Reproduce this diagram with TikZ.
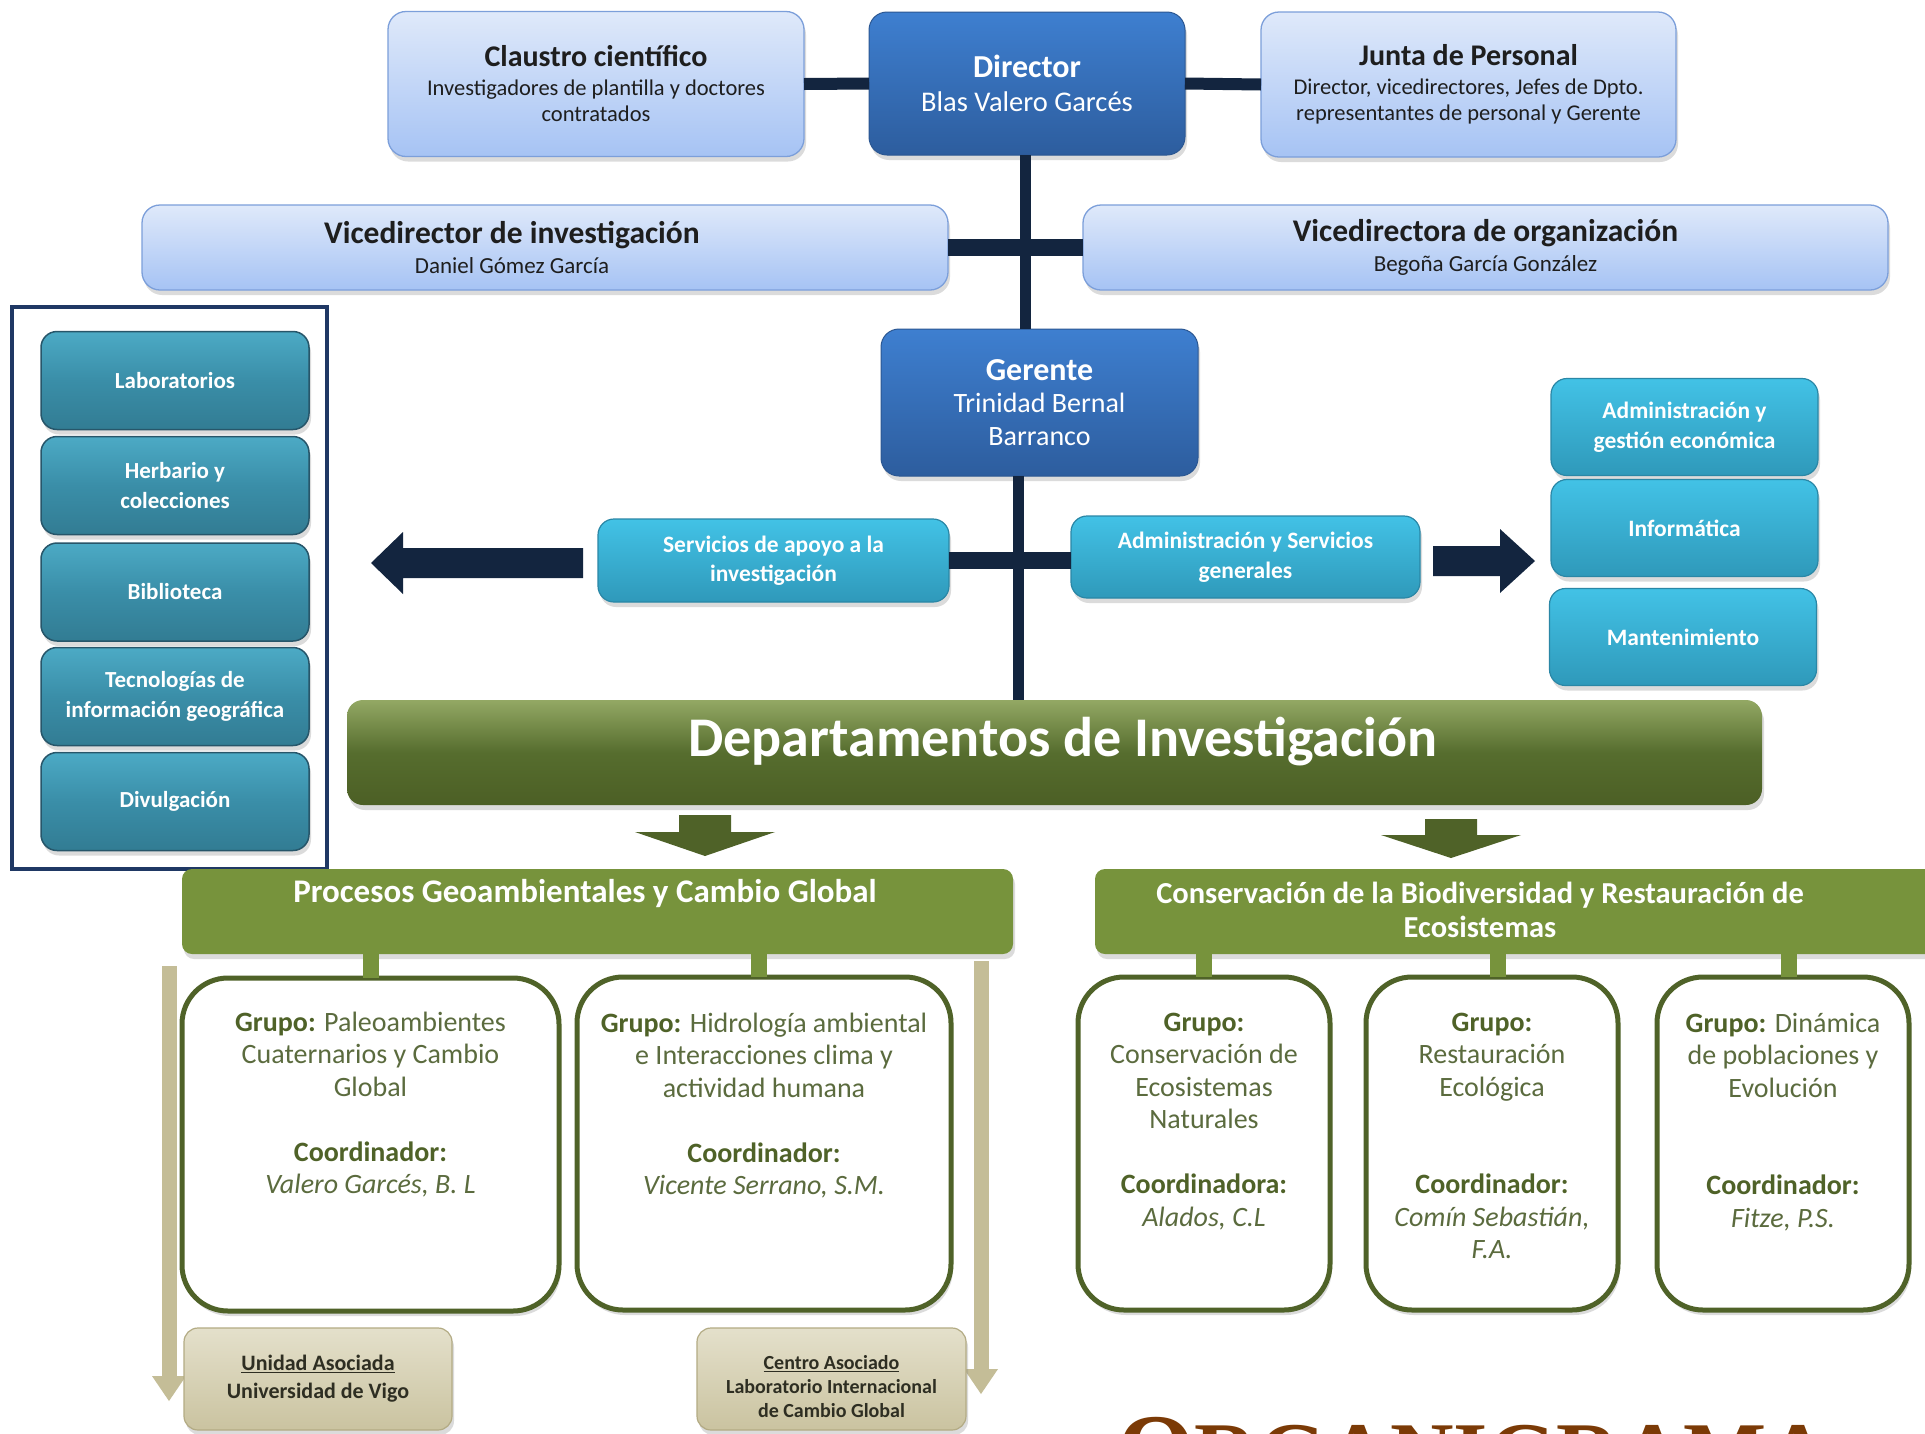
\documentclass[tikz,border=0pt]{standalone}
\usepackage{fontspec}
\setmainfont{Carlito}
\newfontfamily\brownserif{Liberation Serif}
\usetikzlibrary{shadows}
\definecolor{lbTop}{HTML}{DFE9FA}
\definecolor{lbBot}{HTML}{A6C3F4}
\definecolor{lbBorder}{HTML}{7C9FDA}
\definecolor{dbTop}{HTML}{3E7FD0}
\definecolor{dbBot}{HTML}{2D5D9E}
\definecolor{dbBorder}{HTML}{2B5792}
\definecolor{navy}{HTML}{13253F}
\definecolor{tealTop}{HTML}{4CAAC5}
\definecolor{tealMid}{HTML}{3A8EA8}
\definecolor{tealBot}{HTML}{327C93}
\definecolor{tealBorder}{HTML}{27566A}
\definecolor{cyanTop}{HTML}{42C2E6}
\definecolor{cyanBot}{HTML}{2F99BA}
\definecolor{cyanBorder}{HTML}{2A87A6}
\definecolor{deptTop}{HTML}{93A864}
\definecolor{deptMid}{HTML}{566D2E}
\definecolor{deptBot}{HTML}{4C5F25}
\definecolor{grn}{HTML}{77933C}
\definecolor{olive}{HTML}{4F6228}
\definecolor{oliveTxt}{HTML}{5B6B3E}
\definecolor{tan}{HTML}{C4BD97}
\definecolor{tanTop}{HTML}{E4E0CB}
\definecolor{tanBot}{HTML}{CAC3A0}
\definecolor{tanBorder}{HTML}{B3AB84}
\definecolor{tanTxt}{HTML}{2E2E22}
\definecolor{frameNavy}{HTML}{1F3864}
\definecolor{brownT}{HTML}{7B3A06}
\definecolor{darkTxt}{HTML}{1E1E1E}
\newcommand\fsz[2]{\fontsize{#1}{#2}\selectfont}
\tikzset{
  every node/.style={inner sep=0pt, outer sep=0pt},
  shad/.style={drop shadow={opacity=0.28, shadow xshift=2pt, shadow yshift=-5pt}},
  lbox/.style={rounded corners=18pt, draw=lbBorder, line width=1.3pt, top color=lbTop, bottom color=lbBot, shad, align=center, text=darkTxt},
  dbox/.style={rounded corners=18pt, draw=dbBorder, line width=1pt, top color=dbTop, bottom color=dbBot, shad, align=center, text=white},
  tealbox/.style={rounded corners=16pt, draw=tealBorder, line width=1.5pt, top color=tealTop, bottom color=tealBot, middle color=tealMid, shad, align=center, text=white, font=\fsz{23}{29.5}\bfseries, minimum width=268, minimum height=98},
  cyanbox/.style={rounded corners=16pt, draw=cyanBorder, line width=1.2pt, top color=cyanTop, bottom color=cyanBot, shad, align=center, text=white, font=\fsz{23.5}{29.5}\bfseries},
  deptbox/.style={rounded corners=16pt, top color=deptTop, bottom color=deptBot, middle color=deptMid, shad},
  grnbar/.style={rounded corners=10pt, fill=grn, shad},
  gbox/.style={rounded corners=46pt, draw=olive, line width=5pt, fill=white, shad, minimum height=333},
  gtext/.style={align=center, text=oliveTxt, font=\fsz{28}{32.5}},
  tanbox/.style={rounded corners=14pt, draw=tanBorder, line width=1.2pt, top color=tanTop, bottom color=tanBot, shad, align=center, text=tanTxt, minimum width=268, minimum height=102},
  conn/.style={draw=navy, line width=12pt},
  gconn/.style={draw=grn, line width=16pt},
}
\begin{document}
\begin{tikzpicture}[x=1pt,y=-1pt]
\clip (0,0) rectangle (1925,1433);
\fill[white] (0,0) rectangle (1925,1433);

% ---------- top row ----------
\node[lbox, minimum width=416, minimum height=145, font=\fsz{22.5}{26}] (claustro) at (596,84)
  {{\fsz{30}{30}\bfseries Claustro científico}\\[3pt] Investigadores de plantilla y doctores\\ contratados};
\node[dbox, minimum width=316, minimum height=143, font=\fsz{28.5}{34}] (director) at (1027,83.5)
  {{\fsz{32}{32}\bfseries Director}\\ Blas Valero Garcés};
\node[lbox, minimum width=415, minimum height=145, font=\fsz{22.5}{26}] (junta) at (1468.5,84.5)
  {{\fsz{30}{30}\bfseries Junta de Personal}\\[3pt] Director, vicedirectores, Jefes de Dpto.\\ representantes de personal y Gerente};

% ---------- vicedirectors ----------
\node[lbox, minimum width=806, minimum height=85] (vice1) at (545,247.5) {};
\node[align=center, text=darkTxt, font=\fsz{23}{30}] (vice1t) at (512,248)
  {{\fsz{31.5}{31.5}\bfseries Vicedirector de investigación}\\ Daniel Gómez García};
\node[lbox, minimum width=805, minimum height=85, font=\fsz{23}{30}] (vice2) at (1485.5,247.5)
  {{\fsz{31.5}{31.5}\bfseries Vicedirectora de organización}\\ Begoña García González};

% ---------- gerente ----------
\node[dbox, minimum width=317, minimum height=147, font=\fsz{28}{32.5}] (gerente) at (1039.5,402.5)
  {{\fsz{32}{32}\bfseries Gerente}\\ Trinidad Bernal\\ Barranco};

% ---------- services ----------
\node[cyanbox, minimum width=351, minimum height=83] (serv) at (773.5,560.5)
  {Servicios de apoyo a la\\ investigación};
\node[cyanbox, minimum width=349, minimum height=82] (adm) at (1245.5,557)
  {Administración y Servicios\\ generales};

% left column
\draw[frameNavy, line width=4pt] (12,307) rectangle (327,869);
\node[tealbox] (lab) at (175,380.5) {Laboratorios};
\node[tealbox] (herb) at (175,485.5) {Herbario y\\ colecciones};
\node[tealbox] (bib) at (175,592) {Biblioteca};
\node[tealbox] (tec) at (175,696.5) {Tecnologías de\\ información geográfica};
\node[tealbox] (div) at (175,801.5) {Divulgación};

% right column
\node[cyanbox, minimum width=267, minimum height=97] (agest) at (1684.5,427) {Administración y\\ gestión económica};
\node[cyanbox, minimum width=267, minimum height=97] (inf) at (1684.5,528) {Informática};
\node[cyanbox, minimum width=267, minimum height=97] (mant) at (1683,637) {Mantenimiento};

% block arrows
\fill[navy] (583,548) -- (403,548) -- (403,532) -- (371,563) -- (403,594) -- (403,578) -- (583,578) -- cycle;
\fill[navy] (1433,546) -- (1500,546) -- (1500,529) -- (1535,561) -- (1500,593) -- (1500,576) -- (1433,576) -- cycle;

% ---------- departamentos ----------
\node[deptbox, minimum width=1415, minimum height=105] (dept) at (1054.5,752.5) {};
\node[text=white, font=\fsz{56}{56}\bfseries] (deptt) at (1063,742) {Departamentos de Investigación};

% connectors (navy)
\coordinate (vx1) at (1025,0);
\coordinate (vx2) at (1018,0);
\draw[conn] (claustro.east) -- (director.west);
\draw[conn] (director.east) -- (junta.west);
\draw[conn, line width=11pt] (director.south -| vx1) -- (gerente.north -| vx1);
\draw[conn, line width=17pt] (vice1.east) -- (vice2.west);
\draw[conn, line width=11pt] (gerente.south -| vx2) -- (dept.north -| vx2);
\draw[conn, line width=17pt] (serv.east) -- (serv.east -| adm.west);

% green down arrows
\fill[olive] (679,815) -- (731,815) -- (731,832) -- (775,832) -- (705,856) -- (635,832) -- (679,832) -- cycle;
\fill[olive] (1425,819) -- (1477,819) -- (1477,835) -- (1521,835) -- (1451,858) -- (1381,835) -- (1425,835) -- cycle;

% ---------- department bars ----------
\node[grnbar, minimum width=831, minimum height=85] (proc) at (597.5,911.5) {};
\node[text=white, font=\fsz{33}{33}\bfseries] (proct) at (585,894) {Procesos Geoambientales y Cambio Global};
\node[grnbar, minimum width=840, minimum height=85] (cons) at (1515,911.5) {};
\node[text=white, align=center, font=\fsz{30.5}{34}\bfseries] (const) at (1480,910)
  {Conservación de la Biodiversidad y Restauración de\\ Ecosistemas};

% ---------- groups ----------
\node[gbox, minimum width=377] (g1) at (370.5,1144.5) {};
\node[gbox, minimum width=374] (g2) at (764,1143.5) {};
\node[gbox, minimum width=252] (g3) at (1204,1143.5) {};
\node[gbox, minimum width=252] (g4) at (1492,1143.5) {};
\node[gbox, minimum width=252] (g5) at (1783,1143.5) {};

\draw[gconn] (g1.north) -- (g1.north |- proc.south);
\draw[gconn] ([xshift=-5pt]g2.north) -- ([xshift=-5pt]g2.north |- proc.south);
\draw[gconn] (g3.north) -- (g3.north |- cons.south);
\draw[gconn] ([xshift=6pt]g4.north) -- ([xshift=6pt]g4.north |- cons.south);
\draw[gconn] ([xshift=6pt]g5.north) -- ([xshift=6pt]g5.north |- cons.south);

\node[gtext, anchor=north] (g1t) at ([yshift=-34pt]g1.north)
  {{\bfseries\color{olive}Grupo:} Paleoambientes\\ Cuaternarios y Cambio\\ Global\\[32.5pt]
   {\bfseries\color{olive}Coordinador:}\\ \textit{Valero Garcés, B. L}};
\node[gtext, anchor=north] (g2t) at ([yshift=-36pt]g2.north)
  {{\bfseries\color{olive}Grupo:} Hidrología ambiental\\ e Interacciones clima y\\ actividad humana\\[32.5pt]
   {\bfseries\color{olive}Coordinador:}\\ \textit{Vicente Serrano, S.M.}};
\node[gtext, anchor=north] (g3t) at ([yshift=-36pt]g3.north)
  {{\bfseries\color{olive}Grupo:}\\ Conservación de\\ Ecosistemas\\ Naturales\\[32.5pt]
   {\bfseries\color{olive}Coordinadora:}\\ \textit{Alados, C.L}};
\node[gtext, anchor=north] (g4t) at ([yshift=-36pt]g4.north)
  {{\bfseries\color{olive}Grupo:}\\ Restauración\\ Ecológica\\[65pt]
   {\bfseries\color{olive}Coordinador:}\\ \textit{Comín Sebastián,}\\ \textit{F.A.}};
\node[gtext, anchor=north] (g5t) at ([yshift=-36pt]g5.north)
  {{\bfseries\color{olive}Grupo:} Dinámica\\ de poblaciones y\\ Evolución\\[65pt]
   {\bfseries\color{olive}Coordinador:}\\ \textit{Fitze, P.S.}};

% ---------- tan arrows and boxes ----------
\coordinate (ta1) at (169,966);
\coordinate (tb1) at (169,1376);
\coordinate (ta2) at (981,961);
\coordinate (tb2) at (981,1369);
\draw[tan, line width=15pt] (ta1) -- (tb1);
\fill[tan] ([xshift=-17pt]tb1) -- ([xshift=17pt]tb1) -- ([yshift=-25pt]tb1) -- cycle;
\draw[tan, line width=15pt] (ta2) -- (tb2);
\fill[tan] ([xshift=-17pt]tb2) -- ([xshift=17pt]tb2) -- ([yshift=-25pt]tb2) -- cycle;

\node[tanbox, font=\fsz{22}{28}\bfseries] (unidad) at (318,1379)
  {\underline{Unidad Asociada}\\ Universidad de Vigo};
\node[tanbox, minimum width=269] (centro) at (831.5,1379) {};
\node[align=center, text=tanTxt, font=\fsz{20}{24}\bfseries] (centrot) at (831.5,1387)
  {\underline{Centro Asociado}\\ Laboratorio Internacional\\ de Cambio Global};

% ---------- cut-off title ----------
\node[anchor=base west, text=brownT, font=\brownserif\bfseries] (orgt) at (1117,1483)
  {\fontsize{100}{100}\selectfont O\fontsize{88}{88}\selectfont RGANIGRAMA};
\end{tikzpicture}
\end{document}
